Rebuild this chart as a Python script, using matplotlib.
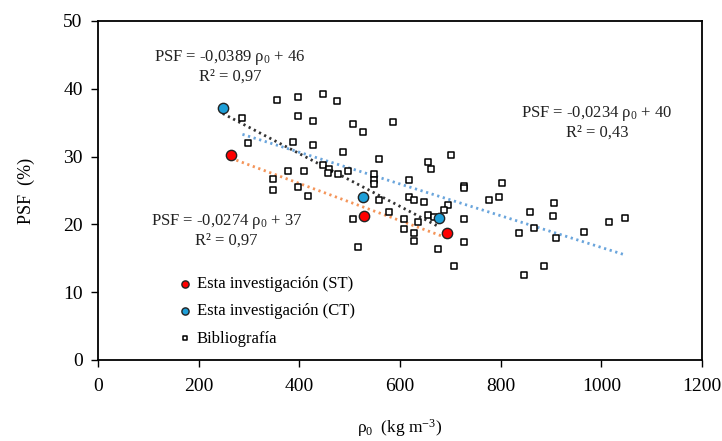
import numpy as np
import matplotlib
matplotlib.use("Agg")
import matplotlib.pyplot as plt

plt.rcParams['font.family'] = ['Liberation Serif', 'DejaVu Serif']
plt.rcParams['mathtext.fontset'] = 'custom'
plt.rcParams['mathtext.rm'] = 'Liberation Serif'
plt.rcParams['mathtext.it'] = 'Liberation Serif'
plt.rcParams['mathtext.bf'] = 'Liberation Serif:bold'

# Esta investigación (ST)
st_rho = [264, 529, 693]
st_psf = [30.3, 21.3, 18.8]

# Esta investigación (CT)
ct_rho = [248, 527, 678]
ct_psf = [37.1, 24.1, 20.9]

# Bibliografía
bib_rho = [287, 356, 397, 448, 474, 397, 428, 506, 526, 586,
           299, 388, 428, 486, 558, 377, 409, 448, 458, 456,
           477, 497, 548, 548, 548, 348, 348, 397, 417, 558,
           578, 506, 702, 656, 662, 618, 728, 728, 803, 797,
           777, 618, 627, 647, 696, 688, 656, 668, 728, 858,
           906, 903, 866, 607, 636, 607, 627, 627, 676, 728,
           707, 837, 909, 886, 846, 966, 1016, 1048, 517]
bib_psf = [35.7, 38.3, 38.8, 39.2, 38.2, 36.0, 35.3, 34.8, 33.6, 35.1,
           32.0, 32.2, 31.7, 30.7, 29.7, 27.9, 27.9, 28.7, 28.1, 27.6,
           27.4, 27.9, 27.4, 26.6, 25.9, 26.7, 25.1, 25.5, 24.2, 23.6,
           21.9, 20.8, 30.2, 29.2, 28.1, 26.5, 25.7, 25.4, 26.1, 24.0,
           23.6, 24.0, 23.6, 23.3, 22.9, 22.1, 21.4, 21.1, 20.8, 21.9,
           23.1, 21.2, 19.5, 20.8, 20.3, 19.3, 18.8, 17.6, 16.3, 17.4,
           13.9, 18.8, 18.0, 13.9, 12.6, 18.9, 20.4, 21.0, 16.7]

# trend lines (slope, intercept) as printed on the chart
ct_fit = (-0.0389, 46)
st_fit = (-0.0274, 37)
bib_fit = (-0.0234, 40)

fig = plt.figure(figsize=(7.22, 4.41), dpi=100)
ax = fig.add_axes([0.1357, 0.1837, 0.8366, 0.7687])


def trend(xs, fit, color):
    x = np.array([min(xs), max(xs)])
    ax.plot(x, fit[0] * x + fit[1], color=color, lw=2, dashes=(0.8, 1.3), zorder=2)


trend(ct_rho, ct_fit, '#333333')
trend(st_rho, st_fit, '#f4955a')
trend(bib_rho, bib_fit, '#6aa5dc')

ax.scatter(bib_rho, bib_psf, marker='s', s=18, facecolor='white', edgecolor='black',
           linewidth=1.1, zorder=3, label='Bibliografía')
ax.scatter(st_rho, st_psf, marker='o', s=55, facecolor='#ff0000', edgecolor='#222222',
           linewidth=1.0, zorder=4, label='Esta investigación (ST)')
ax.scatter(ct_rho, ct_psf, marker='o', s=55, facecolor='#1e9fd8', edgecolor='#222222',
           linewidth=1.0, zorder=4, label='Esta investigación (CT)')

ax.set_xlim(0, 1200)
ax.set_ylim(0, 50)
ax.set_xticks(np.arange(0, 1201, 200))
ax.set_yticks(np.arange(0, 51, 10))
ax.tick_params(direction='out', length=5, width=1, labelsize=14)
ax.tick_params(axis='x', pad=8)
ax.tick_params(axis='y', pad=6)
for s in ax.spines.values():
    s.set_linewidth(1.3)

ax.set_xlabel(r'$\rho_0$  (kg m$^{-3}$)', fontsize=12.5, labelpad=16)
ax.set_ylabel('PSF  (%)', fontsize=13, labelpad=20)

tc = '#222222'
ax.text(262, 44.1, r'PSF = -0,0389 $\rho_0$ + 46', ha='center', va='baseline', fontsize=12, color=tc)
ax.text(262, 41.2, 'R² = 0,97', ha='center', va='baseline', fontsize=12, color=tc)
ax.text(991, 35.9, r'PSF = -0,0234 $\rho_0$ + 40', ha='center', va='baseline', fontsize=12, color=tc)
ax.text(991, 33.0, 'R² = 0,43', ha='center', va='baseline', fontsize=12, color=tc)
ax.text(255, 19.9, r'PSF = -0,0274 $\rho_0$ + 37', ha='center', va='baseline', fontsize=12, color=tc)
ax.text(255, 17.0, 'R² = 0,97', ha='center', va='baseline', fontsize=12, color=tc)

h, l = ax.get_legend_handles_labels()
order = [1, 2, 0]
ax.legend([h[i] for i in order], [l[i] for i in order], loc='lower left',
          bbox_to_anchor=(0.122, 0.02), frameon=False, fontsize=12, handlelength=0.8,
          handletextpad=0.3, labelspacing=0.68, markerscale=0.7, borderaxespad=0)

fig.savefig('out.png', dpi=100)
